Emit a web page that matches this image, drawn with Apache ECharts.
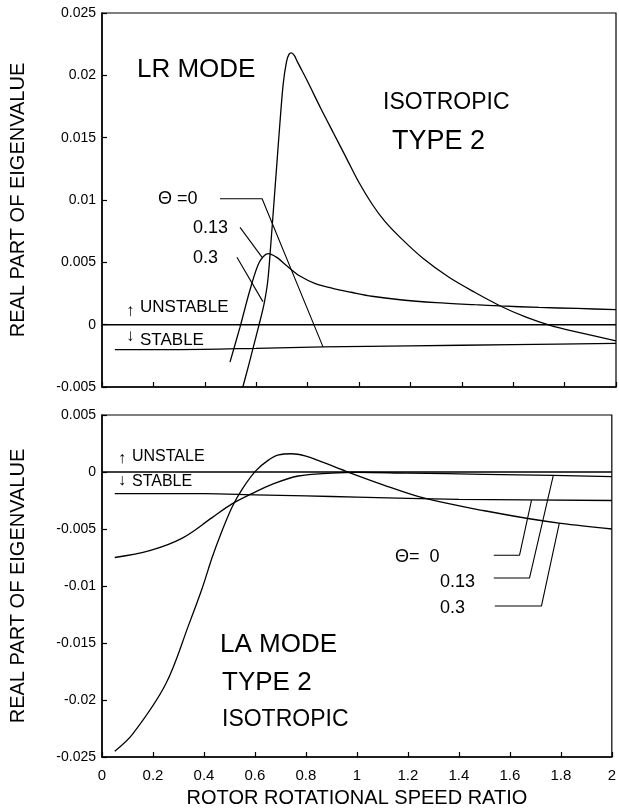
<!DOCTYPE html>
<html><head><meta charset="utf-8">
<script src="https://cdn.jsdelivr.net/npm/echarts@6/dist/echarts.min.js"></script>
<style>html,body{margin:0;padding:0;background:#fff}#c{width:619px;height:811px}</style>
</head><body><div id="c"></div>
<script>
// ---------- DATA ----------
const xTickLabels = ['0','0.2','0.4','0.6','0.8','1','1.2','1.4','1.6','1.8','2'];
const zeroLine = [[0,0],[2,0]];

// Top panel: LR mode
const lrTheta0 = [[0.05,-0.0020],[0.3,-0.0020],[0.6,-0.0019],[0.86,-0.00178],[1.2,-0.0017],[1.6,-0.0016],[2.0,-0.0015]];
const lrTheta013 = [[0.498,-0.0030],[0.537,-0.0002],[0.576,0.0028],[0.612,0.0050],[0.646,0.0057],[0.68,0.0054],[0.72,0.0047],[0.77,0.0039],[0.83,0.0033],[0.9,0.0029],[0.97,0.0026],[1.05,0.00228],[1.16,0.0020],[1.3,0.00177],[1.45,0.0016],[1.55,0.0015],[1.7,0.00138],[1.85,0.0013],[2.0,0.0012]];
const lrTheta03 = [[0.548,-0.005],[0.57,-0.0033],[0.59,-0.0017],[0.61,-0.0001],[0.63,0.0016],[0.645,0.0035],[0.657,0.0065],[0.668,0.0095],[0.68,0.0128],[0.692,0.0161],[0.705,0.0193],[0.718,0.0211],[0.728,0.0217],[0.737,0.0218],[0.748,0.0216],[0.76,0.0211],[0.8,0.0195],[0.85,0.0174],[0.9,0.0154],[0.95,0.0134],[1.0,0.0114],[1.05,0.0097],[1.1,0.0083],[1.16,0.0070],[1.25,0.0053],[1.35,0.0038],[1.45,0.0026],[1.55,0.0015],[1.65,0.0006],[1.75,-0.0001],[1.85,-0.0006],[2.0,-0.0013]];

// Bottom panel: LA mode
const laTheta0 = [[0.05,-0.0019],[0.4,-0.0019],[0.6,-0.0020],[0.8,-0.0021],[1.0,-0.0022],[1.4,-0.0024],[2.0,-0.0025]];
const laTheta013 = [[0.05,-0.0075],[0.187,-0.0069],[0.315,-0.0058],[0.432,-0.0040],[0.51,-0.0028],[0.588,-0.0019],[0.665,-0.0011],[0.77,-0.00035],[0.9,-0.0001],[1.0,-0.00002],[1.2,-0.0001],[1.5,-0.0002],[1.77,-0.0003],[2.0,-0.0004]];
const laTheta03 = [[0.05,-0.0245],[0.12,-0.0230],[0.25,-0.0186],[0.342,-0.0133],[0.393,-0.0102],[0.432,-0.0075],[0.465,-0.0055],[0.51,-0.0031],[0.55,-0.0015],[0.603,0.0001],[0.65,0.0010],[0.693,0.0015],[0.743,0.0016],[0.8,0.0014],[0.85,0.0010],[0.953,0.0001],[1.1,-0.0011],[1.265,-0.0023],[1.5,-0.0034],[1.677,-0.0041],[1.8,-0.0045],[2.0,-0.0050]];

// Leader lines (data coordinates)
const lrLead0 = [[0.459,0.0101],[0.623,0.0101],[0.86,-0.00178]];
const lrLead013 = [[0.537,0.0078],[0.623,0.0054]];
const lrLead03 = [[0.525,0.0054],[0.626,0.00185]];
const laLead0 = [[1.537,-0.0073],[1.638,-0.0073],[1.685,-0.00246]];
const laLead013 = [[1.537,-0.0093],[1.677,-0.0093],[1.770,-0.00035]];
const laLead03 = [[1.541,-0.01175],[1.724,-0.01175],[1.794,-0.00448]];

// ---------- CHART ----------
const FONT = '"Liberation Sans", Arial, Helvetica, sans-serif';
const chart = echarts.init(document.getElementById('c'), null, {renderer:'canvas'});

function xAx(gi, showLabels){
  return {
    type:'value', gridIndex:gi, min:0, max:2, interval:0.2,
    axisLine:{show:true, onZero:false, lineStyle:{color:'#000', width:1.5}},
    axisTick:{show:true, inside:true, length:5, lineStyle:{color:'#000', width:1.2}},
    splitLine:{show:false},
    axisLabel:{show:showLabels, color:'#000', fontFamily:FONT, fontSize:15, margin:11,
      formatter:(v)=>{ const i=Math.round(v/0.2); return xTickLabels[i]; }},
    name: showLabels ? 'ROTOR ROTATIONAL SPEED RATIO' : '',
    nameLocation:'middle', nameGap:31,
    nameTextStyle:{color:'#000', fontFamily:FONT, fontSize:20}
  };
}
function yAx(gi, mn, mx){
  return {
    type:'value', gridIndex:gi, min:mn, max:mx, interval:0.005,
    axisLine:{show:true, onZero:false, lineStyle:{color:'#000', width:1.5}},
    axisTick:{show:true, inside:true, length:5, lineStyle:{color:'#000', width:1.2}},
    splitLine:{show:false},
    axisLabel:{color:'#000', fontFamily:FONT, fontSize:14, margin:6,
      formatter:(v)=> String(+v.toFixed(3))},
    name:'REAL PART OF EIGENVALUE', nameLocation:'middle', nameGap:74,
    nameTextStyle:{color:'#000', fontFamily:FONT, fontSize:20}
  };
}
function ln(data, xi, smooth, w){
  return {type:'line', data:data, xAxisIndex:xi, yAxisIndex:xi, symbol:'none', showSymbol:false,
    smooth:smooth, silent:true, clip:true,
    lineStyle:{color:'#000', width:w||1.3}};
}
function txt(s, x, y, size){
  return {type:'text', x:x, y:y, silent:true,
    style:{text:s, fill:'#000', font: size+'px '+FONT, textVerticalAlign:'middle', verticalAlign:'middle', textAlign:'left', align:'left'}};
}

chart.setOption({
  animation:false,
  backgroundColor:'#fff',
  grid:[
    {left:102, top:13, width:514, height:374, show:true, borderColor:'#000', borderWidth:1.2, backgroundColor:'transparent'},
    {left:102, top:415, width:514, height:342, show:true, borderColor:'#000', borderWidth:1.2, backgroundColor:'transparent'}
  ],
  xAxis:[xAx(0,false), xAx(1,true)],
  yAxis:[yAx(0,-0.005,0.025), yAx(1,-0.025,0.005)],
  series:[
    ln(zeroLine,0,false,1.5), ln(lrTheta0,0,0.3), ln(lrTheta013,0,0.3), ln(lrTheta03,0,0.3),
    ln(lrLead0,0,false,1.1), ln(lrLead013,0,false,1.1), ln(lrLead03,0,false,1.1),
    ln(zeroLine,1,false,1.5), ln(laTheta0,1,0.3), ln(laTheta013,1,0.35), ln(laTheta03,1,0.35),
    ln(laLead0,1,false,1.1), ln(laLead013,1,false,1.1), ln(laLead03,1,false,1.1)
  ],
  graphic:[
    txt('LR MODE',137,70,26),
    txt('ISOTROPIC',383,103,23),
    txt('TYPE 2',392,142,27),
    txt('Θ =0',158,199,18),
    txt('0.13',193,228,18),
    txt('0.3',193,258,18),
    txt('↑',126,311,17),
    txt('UNSTABLE',140,307,17),
    txt('↓',126,336,17),
    txt('STABLE',140,340,17),
    txt('↑',118,459,16),
    txt('UNSTALE',132,457,16),
    txt('↓',118,481,16),
    txt('STABLE',132,482,16),
    txt('Θ=  0',395,557,18),
    txt('0.13',440,582,18),
    txt('0.3',440,608,18),
    txt('LA MODE',220,645,26),
    txt('TYPE 2',222,683,26),
    txt('ISOTROPIC',222,720,23)
  ]
});
</script>
</body></html>
